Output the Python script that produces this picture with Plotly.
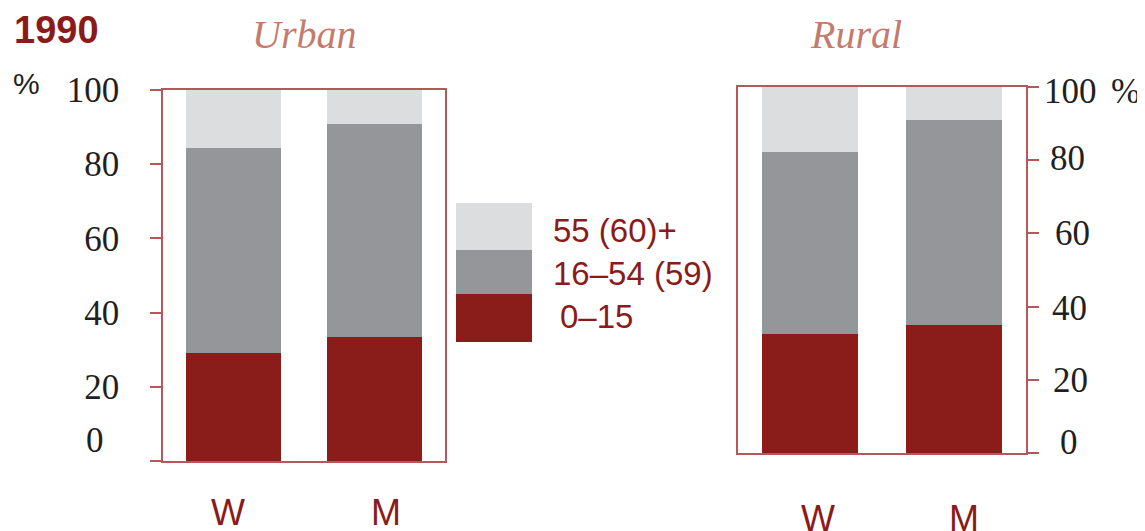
import plotly.graph_objects as go

# ---- data ----
groups = ["W", "M"]
age_labels = ["0–15", "16–54 (59)", "55 (60)+"]
urban_0_15 = [29.0, 33.5]
urban_16_54 = [55.5, 57.3]
urban_55p = [15.5, 9.2]
rural_0_15 = [32.5, 35.0]
rural_16_54 = [49.7, 56.0]
rural_55p = [17.8, 9.0]
y_ticks = [0, 20, 40, 60, 80, 100]
left_ticktext = ["", "20", "40", "60", "80", "100"]
right_ticktext = ["0", "20", "40", "60", "80", "100"]

colors = ["#8a1c1a", "#959699", "#dcdddf"]
frame = "#b4585a"
dark_red = "#8b1a1a"
title_col = "#c47b6e"
txt = "#231f20"

W, H = 1145, 531
OFF = 8  # page body margin
def px(x):
    return (x - OFF) / W
def py(y):
    return 1 - (y - OFF) / H

fig = go.Figure()
for vals, name, c in zip([urban_0_15, urban_16_54, urban_55p], age_labels, colors):
    fig.add_trace(go.Bar(x=groups, y=vals, name=name, marker=dict(color=c, line=dict(width=0)),
                         width=0.68, xaxis="x", yaxis="y", showlegend=False))
for vals, name, c in zip([rural_0_15, rural_16_54, rural_55p], age_labels, colors):
    fig.add_trace(go.Bar(x=groups, y=vals, name=name, marker=dict(color=c, line=dict(width=0)),
                         width=0.66, xaxis="x2", yaxis="y2", showlegend=False))

xcommon = dict(showline=True, linecolor=frame, linewidth=1.5, mirror=True, ticks="",
               showgrid=False, zeroline=False, range=[-0.5, 1.5], automargin=False,
               showticklabels=False)
ycommon = dict(showline=True, linecolor=frame, linewidth=1.5, mirror=True, ticks="outside",
               ticklen=11, tickwidth=1.5, tickcolor=frame, showgrid=False, zeroline=False,
               range=[0, 100], tickvals=y_ticks, automargin=False,
               tickfont=dict(family="Liberation Serif", size=35, color=txt))

fig.update_layout(
    width=W, height=H, barmode="stack", bargap=0,
    margin=dict(l=0, r=0, t=0, b=0),
    paper_bgcolor="white", plot_bgcolor="white",
    xaxis=dict(domain=[px(163), px(445)], anchor="y", **xcommon),
    yaxis=dict(domain=[py(461), py(90)], anchor="x", side="left", ticktext=left_ticktext,
               ticklabelstandoff=24, **ycommon),
    xaxis2=dict(domain=[px(738), px(1026)], anchor="y2", **xcommon),
    yaxis2=dict(domain=[py(453), py(87)], anchor="x2", side="right", showticklabels=False,
                **ycommon),
)

ann = []
ann.append(dict(text="<b>1990</b>", x=px(12), y=py(30), xref="paper", yref="paper",
                xanchor="left", yanchor="middle", showarrow=False,
                font=dict(family="Liberation Sans", size=38, color=dark_red)))
ann.append(dict(text="%", x=px(11), y=py(83), xref="paper", yref="paper",
                xanchor="left", yanchor="middle", showarrow=False,
                font=dict(family="Liberation Sans", size=30, color=txt)))
ann.append(dict(text="<i>Urban</i>", x=px(304), y=py(35), xref="paper", yref="paper",
                xanchor="center", yanchor="middle", showarrow=False,
                font=dict(family="Liberation Serif", size=40, color=title_col)))
ann.append(dict(text="<i>Rural</i>", x=px(856), y=py(35), xref="paper", yref="paper",
                xanchor="center", yanchor="middle", showarrow=False,
                font=dict(family="Liberation Serif", size=40, color=title_col)))
# left zero label (sits slightly above its tick)
ann.append(dict(text="0", x=px(95), y=5.4, xref="paper", yref="y",
                xanchor="center", yanchor="middle", showarrow=False,
                font=dict(family="Liberation Serif", size=35, color=txt)))
# right axis tick labels
right_x = {0: 1058, 20: 1051, 40: 1050, 60: 1053, 80: 1048, 100: 1042}
right_dy = {0: 3.0, 20: -0.3, 40: -0.5, 60: 0.0, 80: 0.5, 100: -1.1}
for v, t in zip(y_ticks, right_ticktext):
    ann.append(dict(text=t, x=px(right_x[v]), y=v + right_dy[v], xref="paper", yref="y2",
                    xanchor="left", yanchor="middle", showarrow=False,
                    font=dict(family="Liberation Serif", size=35, color=txt)))
ann.append(dict(text="%", x=px(1109), y=100 - 1.1, xref="paper", yref="y2",
                xanchor="left", yanchor="middle", showarrow=False,
                font=dict(family="Liberation Serif", size=35, color=txt)))

# category labels under the bars
cat_shift = {("x", "W"): -6, ("x", "M"): 11, ("x2", "W"): 8, ("x2", "M"): 10}
cat_top = {"x": 490, "x2": 496}
for axref in ["x", "x2"]:
    for g in groups:
        ann.append(dict(text=g, x=g, xref=axref, y=py(cat_top[axref]), yref="paper",
                        xanchor="center", yanchor="top", xshift=cat_shift[(axref, g)],
                        showarrow=False,
                        font=dict(family="Liberation Sans", size=36, color=dark_red)))

# legend
shapes = []
leg_rows = [(203, 250, colors[2], "55 (60)+", 551, 231),
            (250, 294, colors[1], "16–54 (59)", 551, 273),
            (294, 342, colors[0], "0–15", 558, 316)]
for y0, y1, c, label, lx, ly in leg_rows:
    shapes.append(dict(type="rect", xref="paper", yref="paper", x0=px(456), x1=px(532),
                       y0=py(y1), y1=py(y0), fillcolor=c, line=dict(width=0)))
    ann.append(dict(text=label, x=px(lx), y=py(ly), xref="paper", yref="paper",
                    xanchor="left", yanchor="middle", showarrow=False,
                    font=dict(family="Liberation Sans", size=33, color=dark_red)))

fig.update_layout(annotations=ann, shapes=shapes)
fig.write_html("out.html")
